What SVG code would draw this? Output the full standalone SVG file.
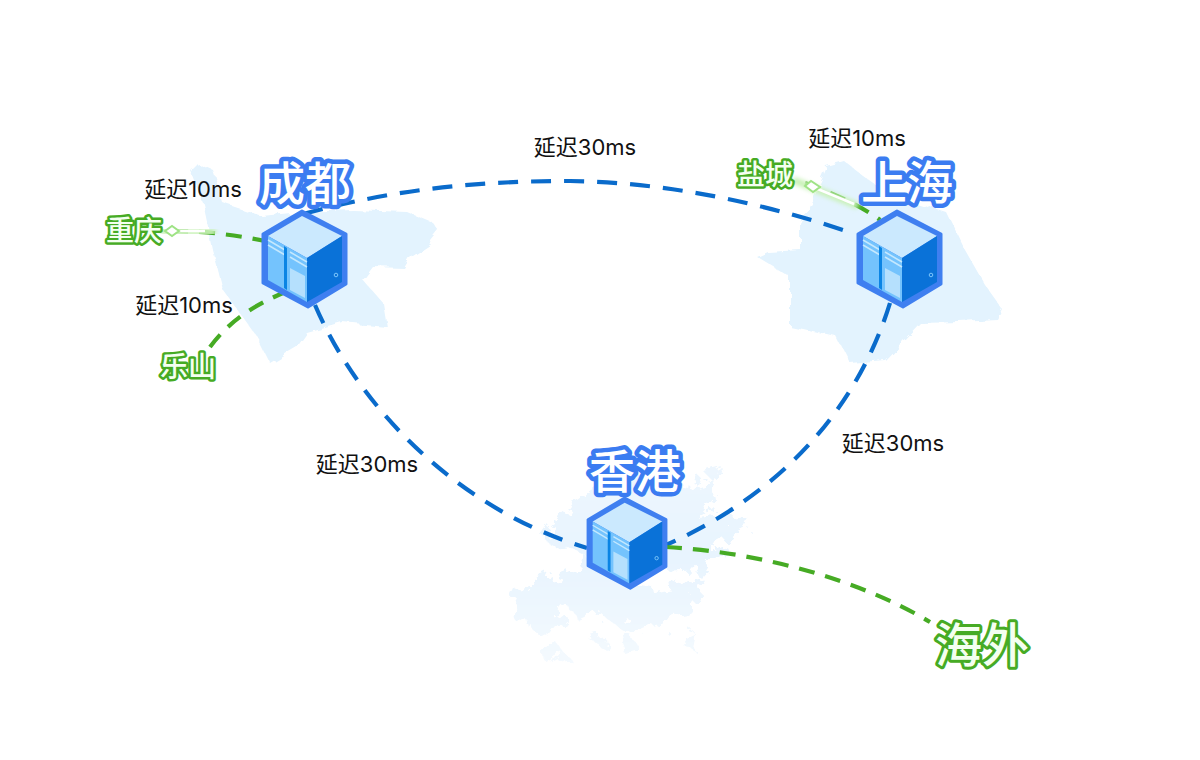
<svg xmlns="http://www.w3.org/2000/svg" xmlns:xlink="http://www.w3.org/1999/xlink" width="1200" height="760" viewBox="0 0 1200 760">
<style>
.map{fill:#e3f3fe}
.maphk{fill:#e8f4fe}
.blue{fill:none;stroke:#0a6bcb;stroke-width:4.2;stroke-dasharray:20 13}
.green{fill:none;stroke:#46ab24;stroke-width:4.2;stroke-dasharray:16 11}
.city{font-family:"Noto Sans CJK SC","Noto Sans",sans-serif;font-size:46px;font-weight:500;fill:#fff;stroke:#3b7cf1;stroke-width:9;stroke-linejoin:round;paint-order:stroke;text-anchor:middle}
.sub{font-family:"Noto Sans CJK SC","Noto Sans",sans-serif;font-size:28px;font-weight:500;fill:#f4fff0;stroke:#46ab24;stroke-width:5;stroke-linejoin:round;paint-order:stroke;text-anchor:middle}
.far{font-size:47px;stroke-width:6}
.lat{font-family:Inter,"Noto Sans CJK SC",sans-serif;font-size:22px;fill:#111;text-anchor:middle}
.glow{fill:none;stroke:#c9f2b8;stroke-width:7}
.core{fill:none;stroke:#fff;stroke-width:2.5}
.dia{fill:#fff;stroke:#9fe386;stroke-width:2}
</style>
<defs>
<linearGradient id="fade" x1="0" y1="0" x2="0" y2="1"><stop offset="0" stop-color="#fff" stop-opacity=".75"/><stop offset=".5" stop-color="#fff"/><stop offset="1" stop-color="#fff" stop-opacity=".45"/></linearGradient>
<mask id="hkmask" maskUnits="userSpaceOnUse" x="490" y="450" width="280" height="220"><rect x="490" y="450" width="280" height="220" fill="url(#fade)"/></mask>
<filter id="soft" x="-20%" y="-200%" width="140%" height="500%"><feGaussianBlur stdDeviation="2"/></filter>
<filter id="rough" x="-5%" y="-5%" width="110%" height="110%"><feTurbulence type="fractalNoise" baseFrequency=".07" numOctaves="3" seed="4"/><feDisplacementMap in="SourceGraphic" scale="9"/></filter>
<filter id="rougher" x="-8%" y="-8%" width="116%" height="116%"><feTurbulence type="fractalNoise" baseFrequency=".06" numOctaves="4" seed="9"/><feDisplacementMap in="SourceGraphic" scale="30"/></filter>
<g id="server">
<path d="M39 0 L83 23 V73 L45 96 L0 72 V23 Z" fill="#3f7ff0" stroke="#3f7ff0" stroke-width="3" stroke-linejoin="round"/>
<path d="M39 5 L79 25 L44 47 L5 25 Z" fill="#cbe9fe"/>
<path d="M5 25 L44 47 V91 L5 69 Z" fill="#74c3fd"/>
<path d="M44 47 L79 25 V71 L44 91 Z" fill="#0a72d8"/>
<path d="M5 29 L22 39 M5 34 L22 44 M27 41 L44 51 M27 46 L44 56" stroke="#c4e8fe" stroke-width="1.5" fill="none"/>
<path d="M21 35 L24 37 V79 L21 77 Z" fill="#0a84e4"/>
<path d="M27 57 L42 65 V87 L27 79 Z" fill="#b5e0fd"/>
<circle cx="73" cy="64" r="1.8" fill="none" stroke="#7cc6fb" stroke-width="1"/>
</g>
</defs>
<rect width="1200" height="760" fill="#fff"/>

<g id="maps">
<path class="map" filter="url(#rough)" d="M190 170 L197 163 L213 170 L223 203 L262 216 L300 212 L353 210 L407 212 L433 223 L440 232 L432 242 L412 255 L404 268 L373 267 L363 280 L383 303 L387 327 L343 323 L307 333 L297 347 L270 363 L257 337 L223 290 L213 250 L203 203 Z"/>
<path class="map" filter="url(#rough)" d="M827 167 L845 162 L862 175 L890 195 L947 213 L965 250 L985 285 L1003 310 L998 320 L960 322 L920 323 L885 360 L850 363 L837 337 L790 327 L790 277 L757 257 L768 252 L800 250 L800 223 L815 195 Z"/>
<g mask="url(#hkmask)"><g class="maphk" filter="url(#rougher)">
<path d="M510 612 L520 592 L560 572 L590 560 L625 585 L655 590 L680 585 L700 575 L705 598 L688 615 L670 618 L660 632 L650 622 L625 632 L600 612 L580 622 L570 608 L550 632 L520 625 Z"/>
<path d="M545 540 L575 498 L600 480 L650 478 L690 485 L712 478 L716 500 L700 520 L745 515 L748 530 L720 545 L705 570 L660 572 L600 565 L570 550 Z"/>
<path d="M702 470 L720 465 L712 480 Z M540 650 L556 642 L566 655 L548 664 Z M678 640 L695 632 L692 648 Z M620 640 L632 636 L640 650 L625 654 Z M590 640 L604 636 L606 650 Z"/>
</g></g>
</g>

<g id="connectors">
<path class="blue" d="M303 214 C400 188 480 181 570 181 C670 182 770 205 855 234"/>
<path class="blue" d="M315 305 C360 410 460 510 587 548"/>
<path class="blue" d="M890 303 C860 400 790 490 666 545"/>
<path class="green" d="M666 547 C760 552 860 580 930 622"/>
<path class="green" d="M172 231 C205 231 235 235 265 241"/>
<path class="green" d="M210 347 C230 320 255 305 283 293"/>
<path class="green" d="M805 183 C830 192 860 205 880 220"/>
<path class="glow" filter="url(#soft)" d="M160 231 L216 232"/>
<path class="core" d="M172 231 L205 231"/>
<path class="dia" d="M165 231 L172 226 L179 231 L172 236 Z"/>
<path class="glow" filter="url(#soft)" d="M793 180 L858 206"/>
<path class="core" d="M808 185 L854 204"/>
<path class="dia" d="M805 186 L811 181 L820 187 L813 192 Z"/>
</g>

<g id="node-chengdu"><use xlink:href="#server" href="#server" transform="translate(263 211)"/><text class="city" x="305" y="200">成都</text></g>
<g id="node-shanghai"><use xlink:href="#server" href="#server" transform="translate(858 211)"/><text class="city" x="907" y="199">上海</text></g>
<g id="node-hongkong"><use xlink:href="#server" href="#server" transform="translate(588 498) scale(.94)"/><text class="city" x="635" y="488">香港</text></g>
<g id="node-chongqing"><text class="sub" x="134" y="241">重庆</text></g>
<g id="node-leshan"><text class="sub" x="188" y="377">乐山</text></g>
<g id="node-yancheng"><text class="sub" x="765" y="185">盐城</text></g>
<g id="node-overseas"><text class="sub far" x="982" y="662">海外</text></g>

<g id="labels">
<text class="lat" x="193" y="197">延迟10ms</text>
<text class="lat" x="184" y="313">延迟10ms</text>
<text class="lat" x="857" y="146">延迟10ms</text>
<text class="lat" x="585" y="155">延迟30ms</text>
<text class="lat" x="367" y="472">延迟30ms</text>
<text class="lat" x="893" y="451">延迟30ms</text>
</g>
</svg>
